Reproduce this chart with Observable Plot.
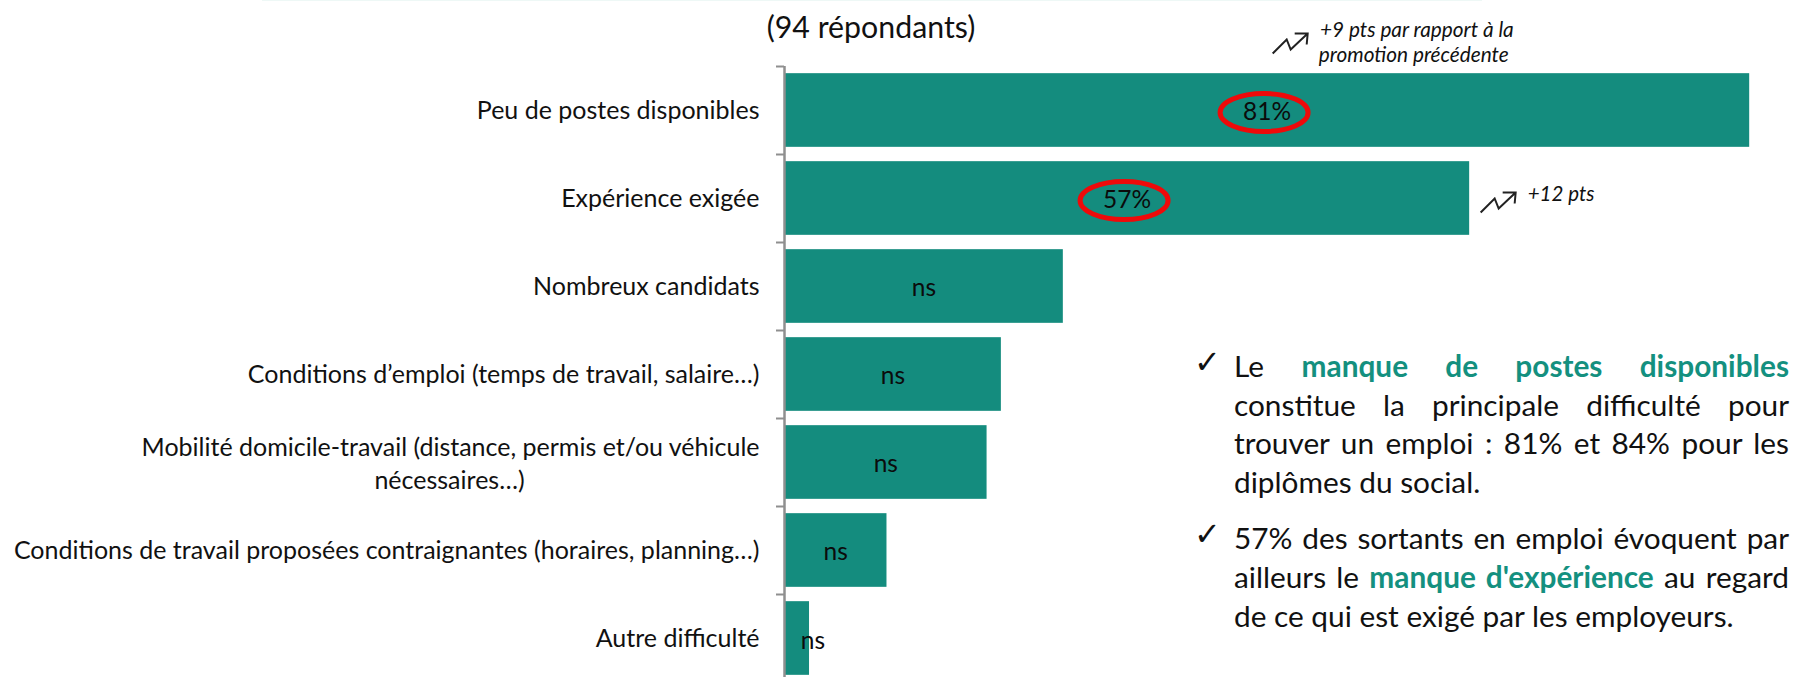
<!DOCTYPE html>
<html lang="fr">
<head>
<meta charset="utf-8">
<script src="https://cdn.jsdelivr.net/npm/d3@7"></script>
<script src="https://cdn.jsdelivr.net/npm/@observablehq/plot@0.6"></script>
<style>
html,body{margin:0;padding:0;background:#fff;overflow:hidden}
body{position:relative;width:1804px;height:677px;font-family:Lato,"Open Sans",sans-serif;color:#111}
#chart svg{display:block;max-width:none}
#topline{position:absolute;left:262px;top:0;width:1220px;height:1px;background:#eef8f6}
#title{position:absolute;left:0;top:7px;width:1742px;text-align:center;font-size:30.3px;line-height:38px}
#notes{position:absolute;left:1234px;top:347px;width:555px;font-size:29.8px;line-height:38.6px}
#notes p{margin:0 0 18px;position:relative}
#notes p::before{content:"✓";position:absolute;left:-40px;top:-4px;font-family:"DejaVu Sans";font-size:32px;font-weight:700}
#notes span{display:block;text-align:justify;text-align-last:justify;white-space:nowrap}
#notes span.last{text-align-last:left}
#notes b{color:#14907f;font-weight:700}
</style>
</head>
<body>
<div id="chart"></div>
<div id="topline"></div>
<div id="title">(94 répondants)</div>
<div id="notes">
<p><span>Le <b>manque de postes disponibles</b></span><span>constitue la principale difficulté pour</span><span>trouver un emploi : 81% et 84% pour les</span><span class="last">diplômes du social.</span></p>
<p><span>57% des sortants en emploi évoquent par</span><span>ailleurs le <b>manque d'expérience</b> au regard</span><span class="last">de ce qui est exigé par les employeurs.</span></p>
</div>
<script>
const categories = [
  "Peu de postes disponibles",
  "Expérience exigée",
  "Nombreux candidats",
  "Conditions d’emploi (temps de travail, salaire…)",
  "Mobilité domicile-travail (distance, permis et/ou véhicule nécessaires…)",
  "Conditions de travail proposées contraignantes (horaires, planning…)",
  "Autre difficulté"
];
const values = [81, 57.5, 23.4, 18.2, 17, 8.6, 2.1];
const barLabels = ["81%", "57%", "ns", "ns", "ns", "ns", "ns"];
const wrappedCategory = categories[4];
const wrappedLines = ["Mobilité domicile-travail (distance, permis et/ou véhicule", "nécessaires…)"];

const rows = categories.map((category, i) => ({category, value: values[i], label: barLabels[i]}));
const TEAL = "#148c7e";
const GREY = "#8f8f8f";

// Custom dot symbols
const K = 0.5523;
const ellipse = (rx, ry) => ({
  draw(c) {
    c.moveTo(rx, 0);
    c.bezierCurveTo(rx, K * ry, K * rx, ry, 0, ry);
    c.bezierCurveTo(-K * rx, ry, -rx, K * ry, -rx, 0);
    c.bezierCurveTo(-rx, -K * ry, -K * rx, -ry, 0, -ry);
    c.bezierCurveTo(K * rx, -ry, rx, -K * ry, rx, 0);
    c.closePath();
  }
});
const trendArrow = {
  draw(c) {
    c.moveTo(-18, 10);
    c.lineTo(-4, -4);
    c.lineTo(0, 6);
    c.lineTo(17, -10);
    c.moveTo(4, -10);
    c.lineTo(17, -10);
    c.lineTo(16, 1);
  }
};

const head = rows.slice(0, 2);
const inner = rows.slice(0, 6);
const last = rows.slice(6);

const chart = Plot.plot({
  width: 1804,
  height: 677,
  marginLeft: 784,
  marginRight: 0,
  marginTop: 66,
  marginBottom: 0,
  style: {fontFamily: "Lato, 'Open Sans', sans-serif", fontSize: "25px", color: "#111", background: "#fff"},
  x: {domain: [0, 85.6], axis: null},
  y: {domain: categories, range: [66, 682], paddingInner: 0.163, paddingOuter: 0.0815, round: false, label: null},
  marks: [
    Plot.barX(rows, {x: "value", y: "category", fill: TEAL}),
    Plot.ruleX([0], {stroke: GREY, strokeWidth: 2.5}),
    Plot.axisY({tickSize: 8, fill: "none", stroke: GREY, strokeWidth: 2, dy: -44, label: null}),
    Plot.axisY({
      tickSize: 0, tickPadding: 25, label: null, fill: "#111",
      tickFormat: d => d === wrappedCategory ? "" : d, lineWidth: 100
    }),
    Plot.text([wrappedCategory], {y: d => d, x: () => 0, text: () => wrappedLines[0], dx: -25, dy: -15, textAnchor: "end", fill: "#111"}),
    Plot.text([wrappedCategory], {y: d => d, x: () => 0, text: () => wrappedLines[1], dx: -335, dy: 18, textAnchor: "middle", fill: "#111"}),
    Plot.text(inner, {x: d => d.value / 2, y: "category", text: "label", dy: 2, fontSize: 24.5, fill: "#0b0b0b"}),
    Plot.text(last, {x: d => d.value / 2, y: "category", text: "label", dx: 16, dy: 3, fontSize: 24.5, fill: "#0b0b0b"}),
    Plot.dot(head, {x: d => d.value / 2, y: "category", dx: -3, dy: 2, symbol: ellipse(44, 19), stroke: "#ee0a0a", strokeWidth: 5, fill: "none"}),
    Plot.dot(rows.slice(0, 1), {x: d => d.value, y: "category", dx: -459, dy: -67, symbol: trendArrow, stroke: "#222", strokeWidth: 2, fill: "none"}),
    Plot.dot(rows.slice(1, 2), {x: d => d.value, y: "category", dx: 29, dy: 4, symbol: trendArrow, stroke: "#222", strokeWidth: 2, fill: "none"}),
    Plot.text(rows.slice(0, 1), {x: d => d.value, y: "category", text: () => "+9 pts par rapport à la", dx: -236, dy: -80, textAnchor: "end", fontStyle: "italic", fontSize: 20.8, fill: "#111"}),
    Plot.text(rows.slice(0, 1), {x: d => d.value, y: "category", text: () => "promotion précédente", dx: -241, dy: -55, textAnchor: "end", fontStyle: "italic", fontSize: 20.8, fill: "#111"}),
    Plot.text(rows.slice(1, 2), {x: d => d.value, y: "category", text: () => "+12 pts", dx: 58, dy: -4, textAnchor: "start", fontStyle: "italic", fontSize: 20.5, fill: "#111"})
  ]
});
document.getElementById("chart").append(chart);
</script>
</body>
</html>
